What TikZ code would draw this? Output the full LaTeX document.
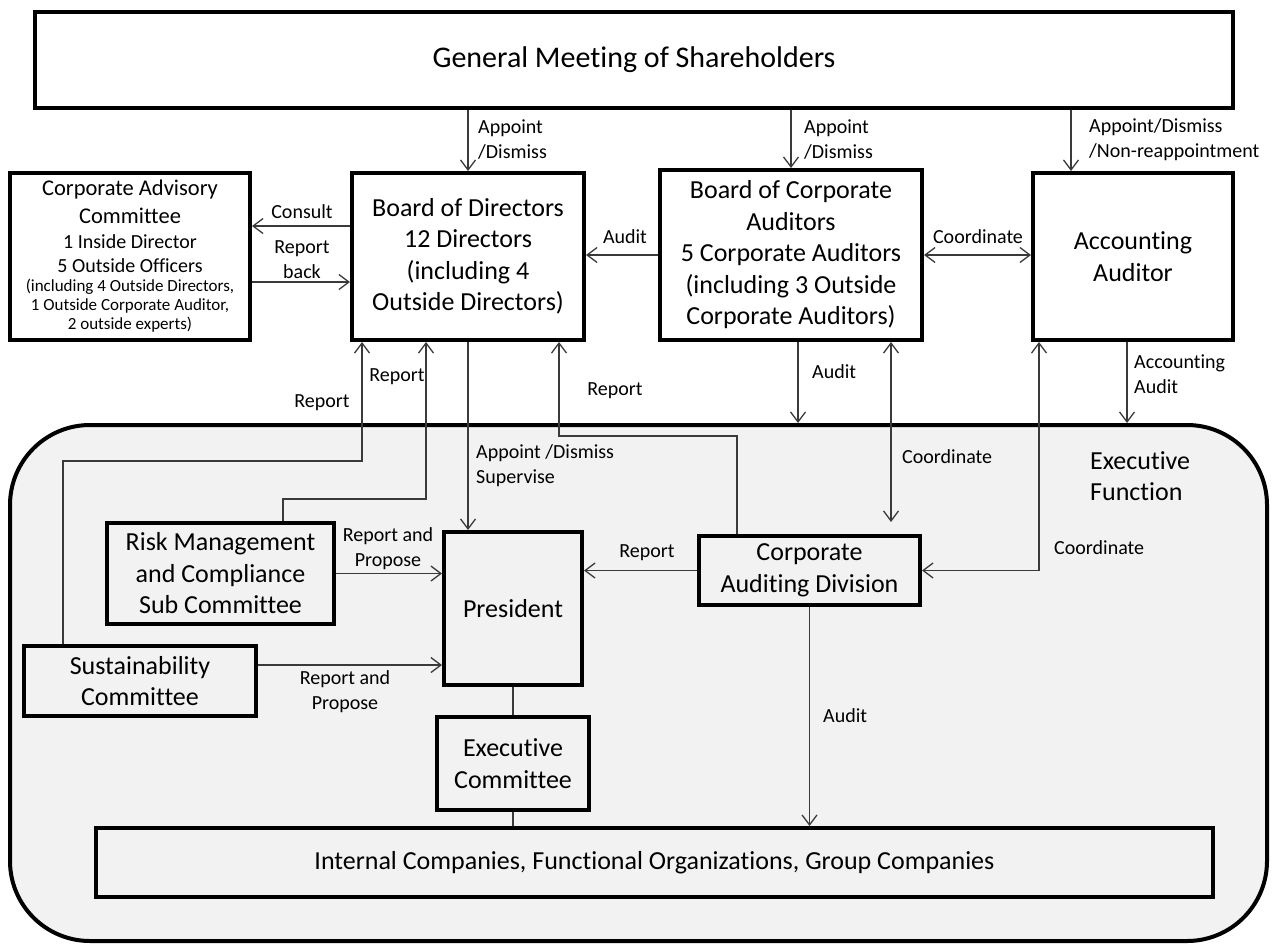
\documentclass[tikz,border=0pt]{standalone}
\usepackage{fontspec}
\setmainfont{Carlito}[Ligatures=CommonOff]
\usetikzlibrary{arrows.meta,positioning}
\definecolor{execgray}{HTML}{F2F2F2}
\definecolor{linegray}{HTML}{3A3A3A}
\tikzset{
  every picture/.style={line join=miter, >={Straight Barb[length=10pt,width=15pt]}},
  box/.style={draw, line width=4pt, align=center, inner sep=0pt, font=\fontsize{26}{31.5}\selectfont},
  lbl/.style={inner sep=0pt, align=left, font=\fontsize{20}{25}\selectfont},
  conn/.style={draw=linegray, line width=1.3pt},
  arr/.style={conn, ->},
  arrboth/.style={conn, <->},
}
\begin{document}
\begin{tikzpicture}[x=1pt,y=-1pt]
\useasboundingbox (0,0) rectangle (1276,945);
\node[box, rounded corners=80pt, fill=execgray, minimum width=1257pt, minimum height=516pt] (exf) at (638.5,683) {};
\node[lbl, font=\fontsize{26}{31.5}\selectfont, anchor=west] (lexf) at (1090,476) {Executive\\Function};

\node[box, minimum width=1198pt, minimum height=96pt, font=\fontsize{30}{36}\selectfont] (gm) at (634,60) {General Meeting of Shareholders};
\node[box, text width=240pt, align=flush center, minimum height=167pt, font=\fontsize{22.5}{28}\selectfont] (cac) at (130,256.5)
  {Corporate Advisory\\Committee\par
   \fontsize{20}{24.5}\selectfont 1 Inside Director\\5 Outside Officers\par
   \fontsize{17}{19}\selectfont (including 4 Outside Directors,\\1 Outside Corporate Auditor,\\2 outside experts)\par};
\node[box, minimum width=232pt, minimum height=167pt] (bod) at (468,256.5) {Board of Directors\\12 Directors\\(including 4\\Outside Directors)};
\node[box, minimum width=262pt, minimum height=170pt] (bca) at (791,255) {Board of Corporate\\Auditors\\5 Corporate Auditors\\(including 3 Outside\\Corporate Auditors)};
\node[box, minimum width=200pt, minimum height=167pt] (aa) at (1133,256.5) {Accounting\\Auditor};
\node[box, minimum width=227pt, minimum height=101pt] (risk) at (220.5,573.5) {Risk Management\\and Compliance\\Sub Committee};
\node[box, minimum width=138pt, minimum height=153pt] (pres) at (513,608.5) {President};
\node[box, minimum width=221pt, minimum height=69pt] (cad) at (809.5,570.5) {Corporate\\Auditing Division};
\node[box, minimum width=232pt, minimum height=70pt] (sus) at (140,681) {Sustainability\\Committee};
\node[box, minimum width=152pt, minimum height=93pt] (excom) at (513,763.5) {Executive\\Committee};
\node[box, minimum width=1117pt, minimum height=69pt] (inter) at (654.5,862.5) {Internal Companies, Functional Organizations, Group Companies};

\draw[arr] (gm.south -| bod.north) -- (bod.north);
\draw[arr] (gm.south -| bca.north) -- (bca.north);
\coordinate (aain) at ([xshift=-62pt]aa.north);
\draw[arr] (gm.south -| aain) -- (aain);
\coordinate (cons) at ([yshift=30.5pt]bod.west);
\draw[arr] (cons) -- (cons -| cac.east);
\coordinate (rback) at ([yshift=-25.5pt]cac.east);
\draw[arr] (rback) -- (rback -| bod.west);
\draw[arr] (bca.west) -- (bca.west -| bod.east);
\draw[arrboth] (bca.east) -- (bca.east -| aa.west);
\draw[arr] (bod.south) -- (bod.south |- pres.north);
\coordinate (bcaaud) at ([xshift=7pt]bca.south);
\draw[arr] (bcaaud) -- (bcaaud |- exf.north);
\coordinate (bcacoo) at ([xshift=100pt]bca.south);
\draw[arrboth, shorten >=12pt] (bcacoo) -- (bcacoo |- cad.north);
\coordinate (aaaud) at ([xshift=-6pt]aa.south);
\draw[arr] (aaaud) -- (aaaud |- exf.north);
\coordinate (aacoo) at ([xshift=-94pt]aa.south);
\draw[arrboth] (aacoo) |- (cad.east);
\coordinate (cadrep) at ([xshift=-72.5pt]cad.north);
\coordinate (bodin1) at ([xshift=91pt]bod.south);
\draw[arr] (cadrep) -- ++(0,-98) -| (bodin1);
\draw[arr] (cad.west) -- (cad.west -| pres.east);
\coordinate (riskrep) at ([xshift=62.5pt]risk.north);
\coordinate (bodin2) at ([xshift=-42pt]bod.south);
\draw[arr] (riskrep) -- ++(0,-22) -| (bodin2);
\coordinate (susrep) at ([xshift=-77pt]sus.north);
\coordinate (bodin3) at ([xshift=-106pt]bod.south);
\draw[arr] (susrep) -- ++(0,-183) -| (bodin3);
\draw[arr] (risk.east) -- (risk.east -| pres.west);
\coordinate (susout) at ([yshift=16pt]sus.east);
\draw[arr] (susout) -- (susout -| pres.west);
\draw[conn] (pres.south) -- (excom.north);
\draw[conn] (excom.south) -- (excom.south |- inter.north);
\draw[arr] (cad.south) -- (cad.south |- inter.north);

\node[lbl, anchor=west] (lapp1) at (478,140) {Appoint\\/Dismiss};
\node[lbl, anchor=west] (lapp2) at (804,140) {Appoint\\/Dismiss};
\node[lbl, anchor=west] (lapp3) at (1089,140) {Appoint/Dismiss\\/Non-reappointment};
\node[lbl] (lcons) at (302,212) {Consult};
\node[lbl, align=center] (lrback) at (302,259.5) {Report\\back};
\node[lbl] (laud1) at (625,237) {Audit};
\node[lbl] (lcoo1) at (978,237) {Coordinate};
\node[lbl, anchor=west] (lsup) at (476,465.5) {Appoint /Dismiss\\Supervise};
\node[lbl, anchor=west] (laud2) at (812,372) {Audit};
\node[lbl, anchor=west] (lcoo2) at (902,457) {Coordinate};
\node[lbl, anchor=west] (lacc) at (1134,374) {Accounting\\Audit};
\node[lbl, anchor=west] (lcoo3) at (1054,548) {Coordinate};
\node[lbl] (lrep1) at (615,391) {Report};
\node[lbl] (lrep2) at (647,553) {Report};
\node[lbl] (lrep3) at (397,377) {Report};
\node[lbl] (lrep4) at (322,403) {Report};
\node[lbl, align=center] (lrap1) at (388,548.5) {Report and\\Propose};
\node[lbl, align=center] (lrap2) at (345,692) {Report and\\Propose};
\node[lbl, anchor=west] (laud3) at (823,716) {Audit};
\end{tikzpicture}
\end{document}
